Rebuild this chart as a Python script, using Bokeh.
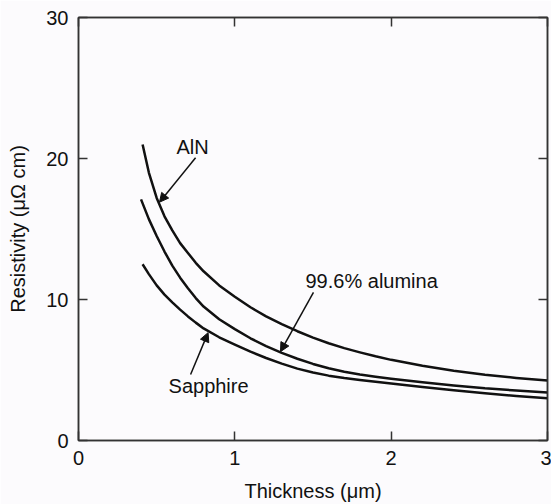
from bokeh.plotting import figure
from bokeh.models import Range1d, LinearAxis, FixedTicker, Arrow, NormalHead, Label
from bokeh.embed import file_html
from bokeh.resources import INLINE

# Data
t_aln = [0.41, 0.45, 0.5, 0.55, 0.6, 0.65, 0.7, 0.75, 0.8, 0.9, 1.0, 1.1, 1.2, 1.3, 1.4,
         1.5, 1.6, 1.7, 1.8, 1.9, 2.0, 2.2, 2.4, 2.6, 2.8, 3.0]
rho_aln = [21.0, 19.0, 17.2, 15.9, 14.9, 14.0, 13.3, 12.6, 12.0, 11.0, 10.2, 9.45, 8.8, 8.25, 7.75,
           7.3, 6.9, 6.55, 6.25, 5.97, 5.72, 5.3, 4.95, 4.67, 4.44, 4.25]

t_alumina = [0.40, 0.45, 0.5, 0.55, 0.6, 0.65, 0.7, 0.75, 0.8, 0.9, 1.0, 1.1, 1.2, 1.3, 1.4,
             1.5, 1.6, 1.7, 1.8, 1.9, 2.0, 2.2, 2.4, 2.6, 2.8, 3.0]
rho_alumina = [17.1, 15.7, 14.5, 13.4, 12.4, 11.55, 10.8, 10.1, 9.5, 8.6, 7.9, 7.25, 6.7, 6.22, 5.8,
               5.43, 5.12, 4.88, 4.68, 4.52, 4.38, 4.13, 3.9, 3.7, 3.55, 3.4]

t_sapphire = [0.41, 0.45, 0.5, 0.55, 0.6, 0.65, 0.7, 0.75, 0.8, 0.9, 1.0, 1.1, 1.2, 1.3, 1.4,
              1.5, 1.6, 1.7, 1.8, 1.9, 2.0, 2.2, 2.4, 2.6, 2.8, 3.0]
rho_sapphire = [12.5, 11.8, 11.0, 10.35, 9.8, 9.28, 8.8, 8.36, 7.95, 7.32, 6.8, 6.3, 5.85, 5.45, 5.1,
                4.82, 4.6, 4.43, 4.29, 4.16, 4.04, 3.8, 3.56, 3.35, 3.16, 3.0]

x_ticks = [0, 1, 2, 3]
y_ticks = [0, 10, 20, 30]

FONT = "Liberation Sans"
FS = "20px"
BG = "#fcfbfd"
INK = "#111111"
AX = "#333333"

p = figure(width=551, height=504, output_backend="svg", toolbar_location=None,
           x_range=Range1d(0, 3), y_range=Range1d(0, 30),
           min_border_left=78, min_border_right=4, min_border_top=17, min_border_bottom=10,
           x_axis_label="Thickness (\u03bcm)", y_axis_label="Resistivity (\u03bc\u03a9 cm)")
p.background_fill_color = BG
p.border_fill_color = BG
p.grid.visible = False
p.outline_line_color = AX
p.outline_line_width = 1.5

for ax in (p.xaxis[0], p.yaxis[0]):
    ax.major_tick_in = 9
    ax.major_tick_out = 0
    ax.minor_tick_in = 0
    ax.minor_tick_out = 0
    ax.axis_line_color = AX
    ax.axis_line_width = 1.5
    ax.major_tick_line_color = AX
    ax.major_tick_line_width = 1.5
    ax.major_label_text_font = FONT
    ax.major_label_text_font_size = FS
    ax.major_label_text_color = INK
    ax.axis_label_text_font = FONT
    ax.axis_label_text_font_size = FS
    ax.axis_label_text_font_style = "normal"
    ax.axis_label_text_color = INK

p.xaxis[0].ticker = FixedTicker(ticks=x_ticks)
p.yaxis[0].ticker = FixedTicker(ticks=y_ticks)
p.xaxis[0].major_label_standoff = 10
p.xaxis[0].axis_label_standoff = 12
p.yaxis[0].major_label_standoff = 10
p.yaxis[0].axis_label_standoff = 14

def frame_axis(ticks):
    return LinearAxis(ticker=FixedTicker(ticks=ticks),
                      major_label_overrides={t: "" for t in ticks},
                      major_label_standoff=0, major_tick_in=9, major_tick_out=0,
                      minor_tick_in=0, minor_tick_out=0, axis_line_color=AX,
                      axis_line_width=1.5, major_tick_line_color=AX, major_tick_line_width=1.5)

p.add_layout(frame_axis(x_ticks), "above")
p.add_layout(frame_axis(y_ticks), "right")

for xs, ys in ((t_aln, rho_aln), (t_alumina, rho_alumina), (t_sapphire, rho_sapphire)):
    p.line(xs, ys, line_color=INK, line_width=2.5, line_join="round")

def lab(x, y, text, align="center"):
    p.add_layout(Label(x=x, y=y, text=text, text_font=FONT, text_font_size=FS,
                       text_align=align, text_baseline="middle", text_color=INK))

def arrow(x0, y0, x1, y1):
    p.add_layout(Arrow(x_start=x0, y_start=y0, x_end=x1, y_end=y1,
                       line_color=INK, line_width=1.5,
                       end=NormalHead(size=9, fill_color=INK, line_color=INK, line_width=1)))

lab(0.73, 20.85, "AlN")
arrow(0.749, 20.05, 0.518, 16.9)
lab(1.452, 11.28, "99.6% alumina", "left")
arrow(1.503, 10.5, 1.292, 6.3)
lab(0.832, 3.83, "Sapphire")
arrow(0.717, 4.68, 0.829, 7.65)

open("out.html", "w").write(file_html(p, INLINE))
